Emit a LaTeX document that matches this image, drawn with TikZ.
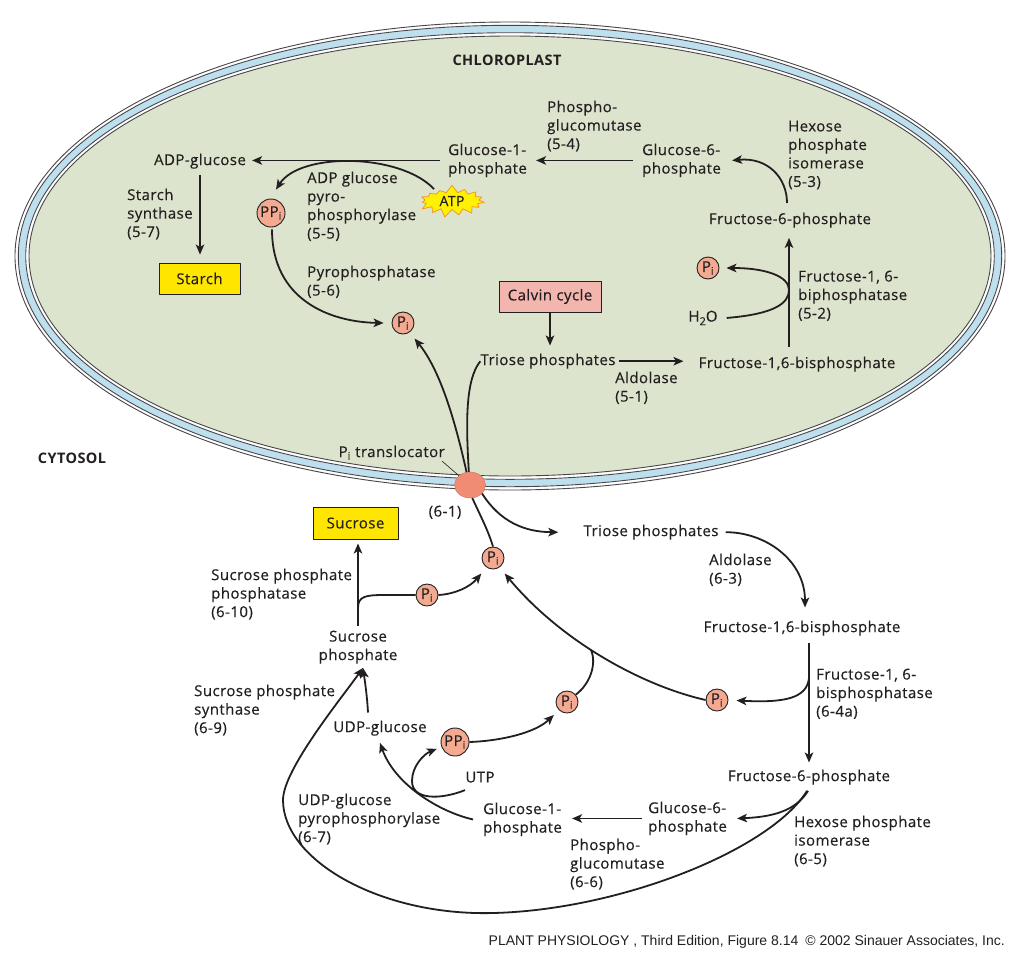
\documentclass[tikz,border=0pt]{standalone}
\usepackage{fontspec}
\setmainfont{Open Sans}[LetterSpace=3.0, UprightFeatures={FakeBold=0.35}]
\newfontfamily\footfont{Liberation Sans}
\usetikzlibrary{arrows.meta,shapes.symbols,shapes.geometric}
\definecolor{chlgreen}{RGB}{221,228,205}
\definecolor{memblue}{RGB}{190,224,238}
\definecolor{memline}{RGB}{70,70,75}
\definecolor{pcol}{RGB}{243,170,145}
\definecolor{transcol}{RGB}{239,140,115}
\definecolor{boxyellow}{RGB}{255,230,0}
\definecolor{staryellow}{RGB}{255,242,0}
\definecolor{calvinpink}{RGB}{242,182,174}
\definecolor{ink}{RGB}{35,31,32}
\definecolor{atporange}{RGB}{245,150,40}
\begin{document}
\begin{tikzpicture}[x=1pt,y=-1pt, line join=round,
  every node/.style={text=ink, inner sep=0pt},
  txt/.style={font=\fontsize{15}{18.5}\selectfont, anchor=north},
  lbl/.style={font=\fontsize{15}{18.5}\selectfont, align=left, anchor=north west},
  ctr/.style={font=\fontsize{15}{18.5}\selectfont, align=center, anchor=north},
  region/.style={font=\fontsize{14.5}{17}\selectfont\bfseries},
  pcirc/.style={circle, draw=ink, line width=0.9pt, fill=pcol, minimum size=22pt, font=\fontsize{15}{15}\selectfont},
  ppcirc/.style={pcirc, minimum size=28pt},
  prodbox/.style={draw=ink, line width=0.9pt, fill=boxyellow, minimum width=81pt, minimum height=31pt, font=\fontsize{15}{18}\selectfont},
  conn/.style={draw=ink, line width=1.8pt},
  arr/.style={conn, -{Stealth[length=10pt,width=8.5pt,inset=2.5pt]}},
]
\useasboundingbox (0,0) rectangle (1024,959);
\fill[white] (0,0) rectangle (1024,959);

% chloroplast envelope
\coordinate (cc) at (510,256);
\draw[memblue, line width=6.5pt] (cc) ellipse [x radius=488pt, y radius=227pt];
\draw[memline, line width=0.9pt] (cc) ellipse [x radius=495pt, y radius=234pt];
\draw[memline, line width=0.9pt] (cc) ellipse [x radius=491.7pt, y radius=230.7pt];
\draw[memline, line width=0.9pt] (cc) ellipse [x radius=484.3pt, y radius=223.3pt];
\filldraw[fill=chlgreen, draw=memline, line width=0.9pt] (cc) ellipse [x radius=481pt, y radius=220pt];

\node[region] (chl) at (507,60) {CHLOROPLAST};
\node[region] (cyt) at (72,458) {CYTOSOL};

% chloroplast nodes
\node[txt] (adpg) at (200,153.5) {ADP-glucose};
\node[lbl] (ssl) at (127,188.5) {Starch\\synthase\\(5-7)};
\node[prodbox] (starch) at (199.5,278.5) {Starch};
\node[ppcirc] (ppi1) at (271,213) {PP\textsubscript{i}};
\node[lbl] (adppl) at (307,171.5) {ADP glucose\\pyro-\\phosphorylase\\(5-5)};
\node[lbl] (ppasel) at (307,265.5) {Pyrophosphatase\\(5-6)};
\node[pcirc] (pi1) at (403,323) {P\textsubscript{i}};
\node[lbl] (g1pc) at (448,143.5) {Glucose-1-\\phosphate};
\node[lbl] (pgm1) at (547,100.5) {Phospho-\\glucomutase\\(5-4)};
\node[lbl] (g6pc) at (642,143.5) {Glucose-6-\\phosphate};
\node[lbl] (hpi1) at (788,120.5) {Hexose\\phosphate\\isomerase\\(5-3)};
\node[txt] (f6pc) at (790,212.5) {Fructose-6-phosphate};
\node[pcirc] (pi2) at (708,268) {P\textsubscript{i}};
\node[txt] (h2o) at (703,310.5) {H\raisebox{-0.45ex}{\fontsize{11}{11}\selectfont 2}O};
\node[lbl] (fbp1) at (798,270.5) {Fructose-1, 6-\\biphosphatase\\(5-2)};
\node[draw=ink, line width=0.9pt, fill=calvinpink, minimum width=102pt, minimum height=31pt, font=\fontsize{15}{18}\selectfont] (calvin) at (550,296.5) {Calvin cycle};
\node[txt] (triosec) at (548,353.5) {Triose phosphates};
\node[lbl] (ald1) at (615,371.5) {Aldolase\\(5-1)};
\node[txt] (f16bpc) at (797,356.5) {Fructose-1,6-bisphosphate};
\node[starburst, starburst points=15, starburst point height=8pt, random starburst=7, fill=staryellow, draw=atporange, line width=0.8pt, minimum width=70pt, minimum height=33pt, font=\fontsize{14}{14}\selectfont] (atp) at (452,201) {ATP};

% translocator
\node[ellipse, fill=transcol, draw=transcol!85!black, line width=0.4pt, minimum width=31pt, minimum height=26pt] (trans) at (470,485) {};
\node[txt, anchor=north east] (pitl) at (445,445.5) {P\textsubscript{i} translocator};
\node[txt] (t61) at (445,505.5) {(6-1)};

% cytosol nodes
\node[prodbox, minimum width=85pt, minimum height=32pt] (sucrose) at (355.5,523) {Sucrose};
\node[lbl] (sppl) at (211,568.5) {Sucrose phosphate\\phosphatase\\(6-10)};
\node[ctr] (sucp) at (358,630.5) {Sucrose\\phosphate};
\node[pcirc] (pi3) at (427,595) {P\textsubscript{i}};
\node[pcirc] (pi4) at (493,558) {P\textsubscript{i}};
\node[lbl] (spsl) at (194,684.5) {Sucrose phosphate\\synthase\\(6-9)};
\node[txt] (udpg) at (380,720.5) {UDP-glucose};
\node[ppcirc] (ppi2) at (455,742) {PP\textsubscript{i}};
\node[txt] (utp) at (480,771.5) {UTP};
\node[lbl] (g1py) at (483,802.5) {Glucose-1-\\phosphate};
\node[lbl] (udppl) at (298,793.5) {UDP-glucose\\pyrophosphorylase\\(6-7)};
\node[lbl] (g6py) at (648,801.5) {Glucose-6-\\phosphate};
\node[lbl] (pgm2) at (570,838.5) {Phospho-\\glucomutase\\(6-6)};
\node[txt] (f6py) at (809,769.5) {Fructose-6-phosphate};
\node[lbl] (hpi2) at (794,815.5) {Hexose phosphate\\isomerase\\(6-5)};
\node[txt] (f16bpy) at (802,620.5) {Fructose-1,6-bisphosphate};
\node[lbl] (fbp2) at (816,668.5) {Fructose-1, 6-\\bisphosphatase\\(6-4a)};
\node[pcirc] (pi5) at (567,702) {P\textsubscript{i}};
\node[pcirc] (pi6) at (717,700) {P\textsubscript{i}};
\node[txt] (trioy) at (651,524.5) {Triose phosphates};
\node[lbl] (ald2) at (709,553.5) {Aldolase\\(6-3)};
\node[font=\footfont\fontsize{14}{16}\selectfont, anchor=base east] (foot) at (1005,945) {PLANT PHYSIOLOGY , Third Edition, Figure 8.14\enspace © 2002 Sinauer Associates, Inc.};

% ---- chloroplast connectors
\draw[arr] ([xshift=-8pt]g1pc.west) -- ([xshift=6pt]g1pc.west -| adpg.east);
\draw[arr] ([yshift=-6pt]adpg.south) -- ([yshift=8pt]adpg.south |- starch.north);
\draw[arr] ([shift={(-18,-12)}]atp.center) .. controls (400,153) and (300,152) .. ([shift={(5,-9)}]ppi1.north);
\draw[arr] ([shift={(1,2)}]ppi1.south) .. controls (272,300) and (330,322) .. ([xshift=-8pt]pi1.west);
\draw[arr, shorten >=8pt] (trans.105) .. controls (455,420) and (440,370) .. (pi1.-55);
\draw[conn] (triosec.west) .. controls (465,380) and (466,425) .. (trans.95);
\draw[arr, shorten >=8pt] (calvin.south) -- (calvin.south |- triosec.north);
\draw[arr, shorten <=3pt, shorten >=15pt] (triosec.east) -- (triosec.east -| f16bpc.west);
\draw[arr] ([shift={(-8,-10)}]f16bpc.north) -- ([shift={(-1,10)}]f6pc.south);
\coordinate (fb1) at (789,290);
\draw[arr, shorten >=7pt] ([xshift=9pt]h2o.east) .. controls (775,314) and (789,303) .. (fb1) .. controls (789,276) and (765,268) .. (pi2.east);
\draw[arr] ([shift={(-3,-9.5)}]f6pc.north) .. controls (787,178) and (768,157) .. ([xshift=11pt]g6pc.east);
\draw[arr] ([xshift=-9pt]g6pc.west) -- ([xshift=9pt]g6pc.west -| g1pc.east);

% ---- translocator connectors
\draw[ink, line width=0.6pt] ([shift={(-3,1)}]pitl.south east) -- (trans.140);
\draw[conn] (trans.-80) .. controls (480,515) and (488,530) .. (pi4.north);
\draw[arr] (trans.-35) .. controls (500,522) and (525,532) .. ([xshift=-25pt]trioy.west);

% ---- cytosol connectors
\draw[arr] ([yshift=5pt]sucp.north) -- ([yshift=-4pt]sucp.north |- sucrose.south);
\coordinate (br1) at (358,608);
\draw[conn] (br1) .. controls (358,596) and (366,595) .. (385,595) -- (pi3.west);
\draw[arr, shorten >=8pt] (pi3.east) .. controls (455,594) and (470,587) .. (pi4.-125);
\draw[arr, shorten >=8pt] (pi6.west) .. controls (640,685) and (560,640) .. (pi4.-55);
\coordinate (j1) at (591,650);
\draw[conn] (pi5.40) .. controls (590,684) and (597,664) .. (j1);
\draw[arr, shorten >=7pt] (ppi2.east) .. controls (500,741) and (535,733) .. (pi5.-135);
\coordinate (uh) at (412,781);
\draw[arr, shorten >=5pt] ([shift={(-15,13)}]utp.center) .. controls (440,800) and (412,800) .. (uh) .. controls (412,766) and (424,754) .. (ppi2.-160);
\draw[arr] ([xshift=-10pt]g1py.west) .. controls (440,812) and (395,785) .. ([yshift=-7pt]udpg.south);
\draw[arr] ([shift={(-1,6)}]f6py.south) .. controls (795,812) and (770,817) .. ([xshift=10pt]g6py.east);
\draw[arr] ([xshift=-6pt]g6py.west) -- ([xshift=10pt]g6py.west -| g1py.east);
\coordinate (lp1) at (493,913);
\coordinate (lp2) at (283,800);
\draw[arr] ([shift={(-2,6)}]f6py.south) .. controls (770,850) and (620,910) .. (lp1) .. controls (380,916) and (283,860) .. (lp2) .. controls (283,770) and (340,700) .. ([shift={(5,4)}]sucp.south);
\draw[arr] ([shift={(-12,-8)}]udpg.north) .. controls (367,695) and (365,682) .. ([shift={(5,4)}]sucp.south);
\draw[arr] ([xshift=7pt]trioy.east) .. controls (765,532) and (805,560) .. ([shift={(3,-13)}]f16bpy.north);
\draw[arr] ([shift={(7,7)}]f16bpy.south) -- ([shift={(7,-7)}]f16bpy.south |- f6py.north);
\coordinate (br2) at (809,678);
\draw[arr, shorten >=8pt] (br2) .. controls (807,698) and (785,703) .. (pi6.east);
\end{tikzpicture}
\end{document}
